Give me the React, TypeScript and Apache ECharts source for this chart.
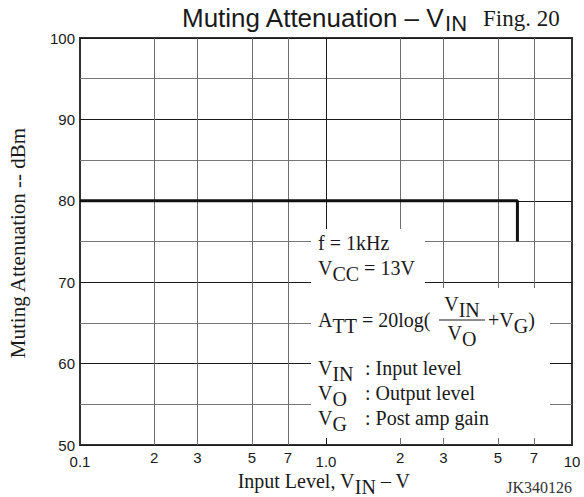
import React, { useEffect, useRef } from 'react';
import * as echarts from 'echarts';

// ---- data ----
const curveX = [0.1, 6, 6];
const curveY = [80, 80, 75];
const minorGridX = [0.2, 0.3, 0.5, 0.7, 2, 3, 5, 7];
const minorGridLabels = ['2', '3', '5', '7', '2', '3', '5', '7'];
const decadeGridX = [1];
const yMin = 50;
const yMax = 100;
const yStep = 10;
const xMin = 0.1;
const xMax = 10;

const SANS = '"Liberation Sans", Arial, Helvetica, sans-serif';
const SERIF = '"Liberation Serif", "Times New Roman", Times, serif';
const INK = '#1a1a1a';

const serifRich = (size: number, sub: number) => ({
  n: { fontFamily: SERIF, fontSize: size, color: INK },
  s: { fontFamily: SERIF, fontSize: size, color: INK, padding: [sub, 0, 0, 0] },
});

const txt = (x: number, y: number, text: string, extra: any = {}) => ({
  type: 'text',
  x,
  y,
  z: 110,
  silent: true,
  style: {
    text,
    textAlign: 'left',
    textVerticalAlign: 'middle',
    fontFamily: SERIF,
    fontSize: 20,
    fill: INK,
    rich: serifRich(20, 12),
    ...extra,
  },
});

export default function App() {
  const ref = useRef<HTMLDivElement>(null);

  useEffect(() => {
    if (!ref.current) return;
    const chart = echarts.init(ref.current, undefined, { renderer: 'svg' });

    const markData: any[] = [
      ...minorGridX.map((v, i) => ({
        xAxis: v,
        name: minorGridLabels[i],
        lineStyle: { color: '#6e6e6e', width: 1, type: 'solid' },
        label: {
          show: true,
          position: 'start',
          formatter: '{b}',
          distance: 5,
          color: INK,
          fontFamily: SANS,
          fontSize: 15,
        },
      })),
      ...decadeGridX.map((v) => ({
        xAxis: v,
        name: '',
        lineStyle: { color: INK, width: 1, type: 'solid' },
        label: { show: false },
      })),
    ];

    // x-axis name laid out in pieces (Times metrics, 20px)
    const nameA = 'Input Level, V';
    const nameSub = 'IN';
    const nameB = ' – V';
    const wA = 117.2;
    const wSub = 21.1;
    const wB = 34.4;
    const nameStart = 324 - (wA + wSub + wB) / 2;

    chart.setOption({
      animation: false,
      backgroundColor: '#fff',
      grid: {
        left: 80,
        top: 38,
        width: 492,
        height: 407,
        show: true,
        borderColor: '#333',
        borderWidth: 2,
        backgroundColor: 'transparent',
        containLabel: false,
      },
      xAxis: {
        type: 'log',
        logBase: 10,
        min: xMin,
        max: xMax,
        axisLine: { show: false },
        axisTick: { show: false },
        splitLine: { show: false },
        axisLabel: {
          show: true,
          showMinLabel: true,
          showMaxLabel: true,
          margin: 9,
          color: INK,
          fontFamily: SANS,
          fontSize: 15,
          formatter: (v: number) => (Math.abs(v - 1) < 1e-9 ? '1.0' : String(v)),
        },
      },
      yAxis: {
        type: 'value',
        min: yMin,
        max: yMax,
        interval: yStep,
        axisLine: { show: false },
        axisTick: { show: false },
        axisLabel: {
          margin: 5,
          color: INK,
          fontFamily: SANS,
          fontSize: 15,
        },
        splitLine: { show: true, lineStyle: { color: INK, width: 1 } },
        minorTick: { show: false, splitNumber: 2 },
        minorSplitLine: { show: true, lineStyle: { color: '#777', width: 1 } },
      },
      series: [
        {
          type: 'line',
          data: [],
          silent: true,
          z: 1,
          markLine: {
            silent: true,
            symbol: ['none', 'none'],
            precision: 4,
            data: markData,
          },
        },
        {
          type: 'line',
          data: curveX.map((x, i) => [x, curveY[i]]),
          symbol: 'none',
          silent: true,
          z: 5,
          lineStyle: { color: '#111', width: 3 },
        },
      ],
      graphic: [
        // white panels behind the annotation text
        { type: 'rect', z: 100, silent: true, shape: { x: 311, y: 229, width: 114, height: 61 }, style: { fill: '#fff' } },
        { type: 'rect', z: 100, silent: true, shape: { x: 311, y: 288, width: 239, height: 150 }, style: { fill: '#fff' } },
        // title
        {
          type: 'text',
          x: 182,
          y: 18,
          z: 110,
          silent: true,
          style: {
            text: '{t|Muting Attenuation – V}{ts|IN}',
            textAlign: 'left',
            textVerticalAlign: 'middle',
            fill: INK,
            rich: {
              t: { fontFamily: SANS, fontSize: 26, color: INK },
              ts: { fontFamily: SANS, fontSize: 22, color: INK, padding: [10, 0, 0, 0] },
            },
          },
        },
        txt(483, 18, 'Fing. 20', { fontSize: 23, rich: undefined }),
        // annotations
        txt(318, 243, 'f = 1kHz', { rich: undefined }),
        txt(318, 268, '{n|V}{s|CC}{n| = 13V}'),
        txt(318, 320, '{n|A}{s|TT}{n| = 20log(}'),
        {
          type: 'line',
          z: 110,
          silent: true,
          shape: { x1: 439, y1: 320, x2: 485, y2: 320 },
          style: { stroke: INK, lineWidth: 1 },
        },
        txt(462, 304, '{n|V}{s|IN}', { textAlign: 'center' }),
        txt(462, 333, '{n|V}{s|O}', { textAlign: 'center' }),
        txt(488, 320, '{n|+V}{s|G}{n|)}'),
        txt(318, 368, '{n|V}{s|IN}'),
        txt(365, 368, ': Input level', { rich: undefined }),
        txt(318, 393, '{n|V}{s|O}'),
        txt(365, 393, ': Output level', { rich: undefined }),
        txt(318, 418, '{n|V}{s|G}'),
        txt(365, 418, ': Post amp gain', { rich: undefined }),
        // x axis name
        txt(nameStart, 481, nameA, { rich: undefined }),
        txt(nameStart + wA, 487, nameSub, { rich: undefined }),
        txt(nameStart + wA + wSub, 481, nameB, { rich: undefined }),
        // y axis name
        {
          type: 'text',
          x: 18,
          y: 243,
          rotation: Math.PI / 2,
          z: 110,
          silent: true,
          style: {
            text: 'Muting Attenuation -- dBm',
            textAlign: 'center',
            textVerticalAlign: 'middle',
            fontFamily: SERIF,
            fontSize: 21,
            fill: INK,
          },
        },
        txt(572, 487, 'JK340126', { textAlign: 'right', fontSize: 16, fill: '#333', rich: undefined }),
      ],
    });

    return () => chart.dispose();
  }, []);

  return (
    <div
      ref={ref}
      style={{ position: 'fixed', left: 0, top: 0, width: 584, height: 497, background: '#fff' }}
    />
  );
}
